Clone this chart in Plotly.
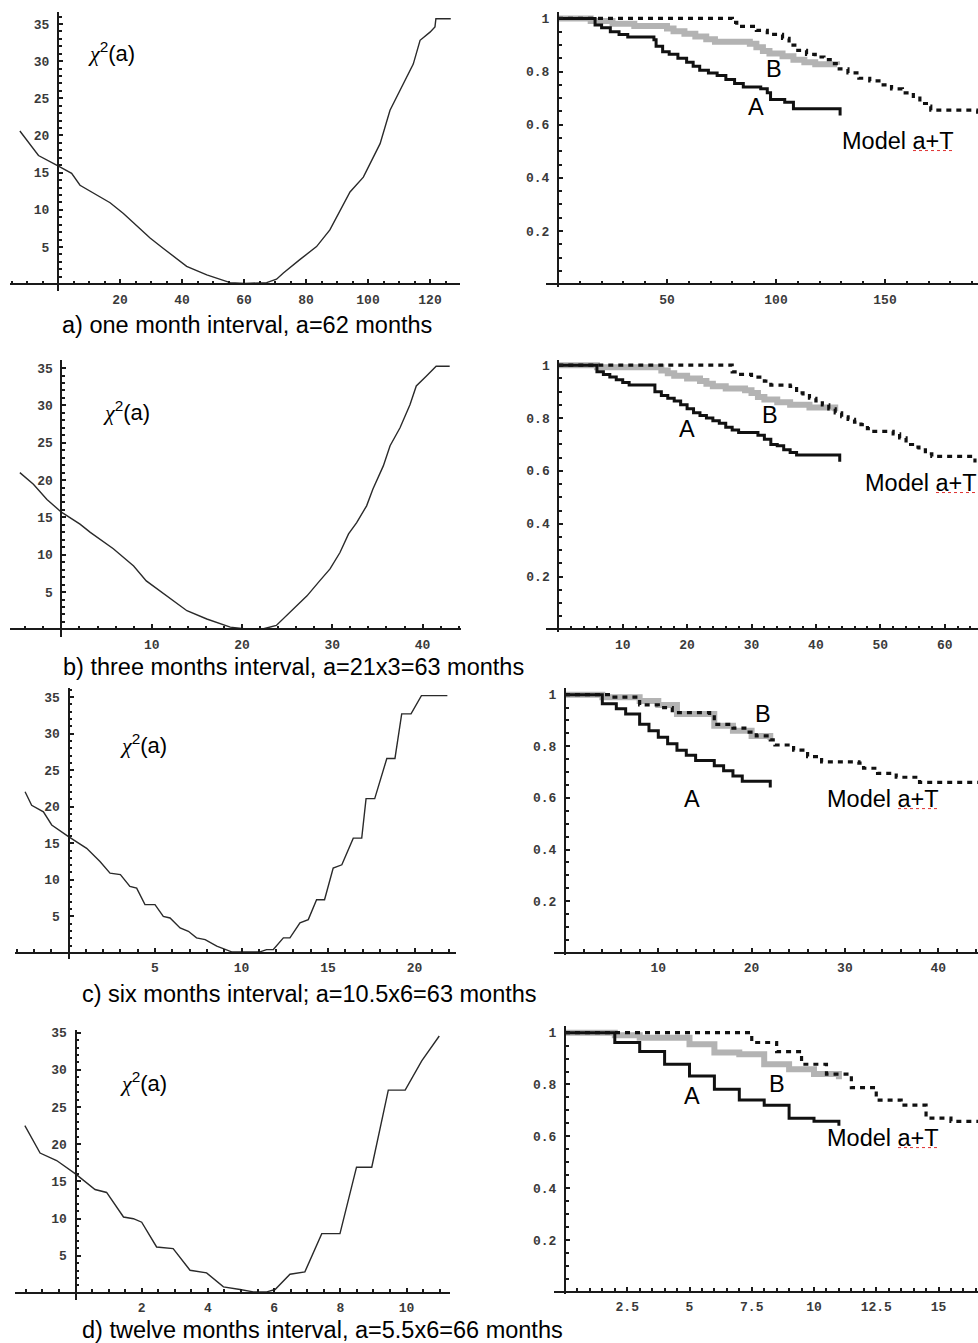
import numpy as np
import plotly.graph_objects as go

W, H = 978, 1343

# ---------------- DATA ----------------
# chi^2(a) curves (left column)
chi_a_x = [-12.3, -6.3, 0, 4.4, 7.1, 16.8, 21.1, 29.7, 34, 41.5, 48, 55.5, 60.3, 67.3, 70.5, 72.7, 78, 83.4,
           87.7, 91, 94.2, 98.5, 100.6, 103.9, 107.1, 110.3, 114.6, 116.8, 120, 121.6, 121.9, 126.7]
chi_a_y = [20.6, 17.3, 15.9, 14.9, 13.3, 10.95, 9.5, 6.2, 4.8, 2.4, 1.25, 0.2, 0.1, 0.2, 0.67, 1.5, 3.3, 5.05,
           7.3, 10, 12.4, 14.4, 16.2, 18.9, 23.4, 26.1, 29.6, 32.8, 33.9, 34.6, 35.7, 35.7]

chi_b_x = [-4.6, -3.1, -1.6, 0, 2.06, 3.2, 5.75, 8, 9.4, 11.65, 13.9, 16.1, 18.7, 20.2, 22.4, 23.8, 25.3, 27.2,
           28.6, 29.75, 30.85, 31.8, 32.7, 33.8, 34.5, 35.65, 36.4, 37.5, 38.6, 39.3, 40.4, 41.5, 43]
chi_b_y = [21.0, 19.45, 17.4, 15.7, 14.1, 13, 10.8, 8.5, 6.5, 4.5, 2.5, 1.4, 0.3, 0.09, 0.09, 0.53, 2.3, 4.5,
           6.5, 8.1, 10.3, 12.8, 14.3, 16.55, 18.8, 21.9, 24.6, 27.0, 30.1, 32.6, 33.9, 35.25, 35.25]

chi_c_x = [-2.51, -2.13, -1.45, -0.97, 0, 1.05, 1.82, 2.4, 3, 3.55, 3.94, 4.42, 5, 5.48, 5.87, 6.45, 6.93, 7.4,
           7.9, 8.57, 9.43, 10.1, 11.07, 11.45, 11.84, 12.42, 12.8, 13.38, 13.86, 14.34, 14.8, 15.3, 15.8, 16.46,
           16.95, 17.2, 17.7, 18.4, 18.87, 19.26, 19.8, 20.4, 21.9]
chi_c_y = [22.05, 20.2, 19.3, 17.5, 15.9, 14.3, 12.5, 10.9, 10.7, 9.1, 8.86, 6.6, 6.6, 5.0, 4.77, 3.4, 2.95, 2.05,
           1.82, 0.91, 0.14, 0.14, 0.14, 0.45, 0.45, 2.05, 2.05, 4.1, 4.55, 7.27, 7.27, 11.6, 12.05, 15.7,
           15.7, 21.1, 21.1, 26.6, 26.6, 32.7, 32.7, 35.2, 35.2]

chi_d_x = [-1.53, -1.07, -0.57, 0, 0.59, 0.94, 1.45, 1.75, 2.0, 2.45, 2.95, 3.46, 3.96, 4.47, 4.97, 5.37, 5.78,
           6.03, 6.48, 6.93, 7.44, 7.99, 8.49, 8.95, 9.45, 9.96, 10.46, 10.99]
chi_d_y = [22.5, 18.8, 17.8, 16.0, 13.9, 13.5, 10.2, 9.97, 9.5, 6.17, 5.95, 3.04, 2.68, 0.8, 0.45, 0.13, 0.13,
           0.45, 2.5, 2.82, 7.96, 7.96, 16.9, 16.9, 27.27, 27.27, 31.2, 34.55]

# survival curves (right column): A (black), B (grey), Model a+T (dotted)
sa_A_x = [0, 17, 20, 24, 28, 32, 44, 45, 48, 51, 55, 59, 62, 65, 69, 73, 77, 81, 85, 93, 96, 97.5, 104, 108, 129.4]
sa_A_y = [1, .975, .965, .95, .94, .93, .92, .895, .875, .865, .85, .835, .82, .805, .795, .785, .77, .755, .742,
          .735, .72, .695, .685, .66, .635]
sa_B_x = [0, 15, 25, 35, 50, 53, 58, 63, 68, 72, 88, 91, 94, 97, 103, 108, 113, 118, 128]
sa_B_y = [1, .99, .98, .972, .962, .952, .942, .932, .922, .912, .905, .892, .878, .868, .858, .845, .835, .828, .826]
sa_M_x = [0, 80, 82, 91, 96, 103, 106, 110, 114, 118, 122, 126, 129, 133, 138, 143, 148, 153, 158, 163, 166, 169,
          171, 192.5]
sa_M_y = [1, .985, .97, .955, .94, .925, .9, .88, .865, .855, .845, .83, .81, .795, .775, .765, .75, .735, .72, .7,
          .68, .67, .655, .63]

sb_A_x = [0, 6, 7, 8, 9, 10, 11, 15, 16, 17, 18, 19, 20, 21, 22, 23, 24, 25, 26, 27, 28, 31, 32, 33, 34, 35, 36,
          37, 43.7]
sb_A_y = [1, .975, .965, .955, .945, .935, .925, .9, .885, .875, .865, .85, .835, .82, .81, .8, .79, .78, .765, .755,
          .745, .735, .72, .7, .695, .68, .67, .66, .635]
sb_B_x = [0, 6, 16, 17, 18, 20, 22, 23, 24, 26, 29, 30, 31, 32, 34, 36, 39, 43]
sb_B_y = [1, .992, .98, .97, .96, .95, .94, .93, .92, .912, .905, .895, .88, .87, .86, .85, .84, .826]
sb_M_x = [0, 27, 28, 30, 32, 33, 36, 37, 38, 39, 40, 41, 42, 43, 44, 45, 46, 47, 48, 49, 52, 53, 54, 55, 56, 57,
          58, 64.7]
sb_M_y = [1, .975, .965, .955, .94, .925, .92, .895, .885, .875, .865, .85, .835, .82, .805, .795, .785, .775, .76,
          .75, .74, .725, .7, .69, .68, .665, .655, .632]

sc_A_x = [0, 4, 5.5, 6.5, 8, 9, 10, 11, 12, 13, 14, 16, 17, 18, 19, 22]
sc_A_y = [1, .965, .945, .925, .885, .86, .835, .81, .785, .765, .745, .725, .705, .685, .665, .64]
sc_B_x = [0, 4, 8, 10, 12, 16, 18, 20, 22]
sc_B_y = [1, .99, .975, .96, .925, .88, .86, .84, .825]
sc_M_x = [0, 5, 8, 10, 11.5, 15.5, 16, 18, 19.5, 20.5, 22, 22.5, 24.5, 26, 27.5, 31.5, 32, 33.5, 35.5, 38, 44.3]
sc_M_y = [1, .99, .96, .95, .93, .92, .885, .87, .855, .84, .825, .805, .785, .76, .74, .735, .715, .695, .68, .66,
          .66]

sd_A_x = [0, 2, 3, 4, 5, 6, 7, 8, 9, 10, 11]
sd_A_y = [1, .962, .927, .878, .833, .782, .74, .72, .67, .658, .641]
sd_B_x = [0, 2, 3, 5, 6, 7, 8, 9, 10, 11]
sd_B_y = [1, .99, .98, .955, .923, .917, .878, .859, .84, .82]
sd_M_x = [0, 7.5, 8.5, 9.5, 10.5, 11.5, 12.5, 13.5, 14.5, 15.5, 16.7]
sd_M_y = [1, .962, .927, .878, .84, .788, .74, .72, .67, .658, .658]

# tick labels
chi_ticks = [5, 10, 15, 20, 25, 30, 35]
surv_ticks = [0.2, 0.4, 0.6, 0.8, 1]
surv_ticktext = ["0.2", "0.4", "0.6", "0.8", "1"]
xt_a_left = [20, 40, 60, 80, 100, 120]
xt_a_right = [50, 100, 150]
xt_b_left = [10, 20, 30, 40]
xt_b_right = [10, 20, 30, 40, 50, 60]
xt_c_left = [5, 10, 15, 20]
xt_c_right = [10, 20, 30, 40]
xt_d_left = [2, 4, 6, 8, 10]
xt_d_right = [2.5, 5, 7.5, 10, 12.5, 15]
xt_d_right_text = ["2.5", "5", "7.5", "10", "12.5", "15"]

captions = ["a) one month interval, a=62 months",
            "b) three months interval, a=21x3=63 months",
            "c) six months interval; a=10.5x6=63 months",
            "d) twelve months interval, a=5.5x6=66 months"]

# ---------------- LAYOUT (pixel geometry) ----------------
# box: (x0, x1, y0, y1) px ; origin px ; scale px/unit ; major ticks ; minor step
panels = [
    dict(box=(10, 460, 8, 288), org=(58, 281), sc=(3.1, 7.457), xt=xt_a_left, xtt=None, xm=5,
         yt=chi_ticks, ytt=None, ym=1),
    dict(box=(546, 978, 8, 284), org=(558, 281), sc=(2.18, 266.5), xt=xt_a_right, xtt=None, xm=10,
         yt=surv_ticks, ytt=surv_ticktext, ym=0.05),
    dict(box=(10, 461, 356.7, 635), org=(61.4, 627.3), sc=(9.03, 7.49), xt=xt_b_left, xtt=None, xm=2,
         yt=chi_ticks, ytt=None, ym=1),
    dict(box=(546, 978, 356.7, 630), org=(558.3, 627.3), sc=(6.44, 265), xt=xt_b_right, xtt=None, xm=2,
         yt=surv_ticks, ytt=surv_ticktext, ym=0.05),
    dict(box=(15, 456, 686, 958), org=(68.5, 951.7), sc=(17.3, 7.33), xt=xt_c_left, xtt=None, xm=1,
         yt=chi_ticks, ytt=None, ym=1),
    dict(box=(554, 978, 686, 954), org=(565, 951.7), sc=(9.33, 259), xt=xt_c_right, xtt=None, xm=2,
         yt=surv_ticks, ytt=surv_ticktext, ym=0.05),
    dict(box=(15, 450, 1029, 1300), org=(75.5, 1292.7), sc=(33.1, 7.457), xt=xt_d_left, xtt=None, xm=0.5,
         yt=chi_ticks, ytt=None, ym=1),
    dict(box=(554, 978, 1025, 1294), org=(565, 1291.7), sc=(24.9, 260), xt=xt_d_right, xtt=xt_d_right_text,
         xm=0.5, yt=surv_ticks, ytt=surv_ticktext, ym=0.05),
]

AX = "#1a1a1a"
TICKFONT = dict(family="Liberation Mono", size=13, color="#3a3a3a", weight="bold")
LABFONT = dict(family="Liberation Sans", size=23.5, color="black")

fig = go.Figure()
layout = dict(width=W, height=H, margin=dict(l=0, r=0, t=0, b=0),
              paper_bgcolor="white", plot_bgcolor="white", showlegend=False)


def minor_vals(lo, hi, step, major):
    vals = np.arange(np.ceil(lo / step) * step, hi + 1e-9, step)
    out = []
    for v in vals:
        if abs(v) < 1e-9:
            continue
        if any(abs(v - m) < 1e-9 for m in major):
            continue
        out.append(round(float(v), 6))
    return out


for i, p in enumerate(panels):
    k = i + 1
    x0, x1, y0, y1 = p["box"]
    ox, oy = p["org"]
    sx, sy = p["sc"]
    xr = [(x0 - ox) / sx, (x1 - ox) / sx]
    yr = [(oy - y1) / sy, (oy - y0) / sy]
    xd = [x0 / W, x1 / W]
    yd = [1 - y1 / H, 1 - y0 / H]
    xa = dict(domain=xd, range=xr, anchor="free", position=1 - oy / H,
              showline=True, linecolor=AX, linewidth=2, showgrid=False, zeroline=False,
              ticks="inside", ticklen=4, tickwidth=1.5, tickcolor=AX, ticklabelstandoff=3,
              tickmode="array", tickvals=p["xt"], tickfont=TICKFONT,
              minor=dict(tickmode="array", tickvals=minor_vals(xr[0], xr[1], p["xm"], p["xt"]),
                         ticks="inside", ticklen=2.5, tickwidth=1.5, tickcolor=AX, showgrid=False))
    if p["xtt"] is not None:
        xa["ticktext"] = p["xtt"]
    ya = dict(domain=yd, range=yr, anchor="free", position=ox / W,
              showline=True, linecolor=AX, linewidth=2, showgrid=False, zeroline=False,
              ticks="inside", ticklen=4, tickwidth=1.5, tickcolor=AX, ticklabelstandoff=5,
              tickmode="array", tickvals=p["yt"], tickfont=TICKFONT,
              minor=dict(tickmode="array", tickvals=minor_vals(yr[0], yr[1], p["ym"], p["yt"]),
                         ticks="inside", ticklen=2.5, tickwidth=1.5, tickcolor=AX, showgrid=False))
    if p["ytt"] is not None:
        ya["ticktext"] = p["ytt"]
    layout[f"xaxis{k}"] = xa
    layout[f"yaxis{k}"] = ya

chi_sets = [(chi_a_x, chi_a_y), (chi_b_x, chi_b_y), (chi_c_x, chi_c_y), (chi_d_x, chi_d_y)]
surv_sets = [
    (sa_A_x, sa_A_y, sa_B_x, sa_B_y, sa_M_x, sa_M_y),
    (sb_A_x, sb_A_y, sb_B_x, sb_B_y, sb_M_x, sb_M_y),
    (sc_A_x, sc_A_y, sc_B_x, sc_B_y, sc_M_x, sc_M_y),
    (sd_A_x, sd_A_y, sd_B_x, sd_B_y, sd_M_x, sd_M_y),
]

for r in range(4):
    kl = 2 * r + 1
    kr = 2 * r + 2
    cx, cy = chi_sets[r]
    fig.add_trace(go.Scatter(x=cx, y=cy, mode="lines", xaxis=f"x{kl}", yaxis=f"y{kl}",
                             line=dict(color="#2a2a2a", width=1.4), hoverinfo="skip"))
    ax_, ay_, bx_, by_, mx_, my_ = surv_sets[r]
    fig.add_trace(go.Scatter(x=bx_, y=by_, mode="lines", xaxis=f"x{kr}", yaxis=f"y{kr}",
                             line=dict(color="#b3b3b3", width=6, shape="hv"), hoverinfo="skip"))
    fig.add_trace(go.Scatter(x=ax_, y=ay_, mode="lines", xaxis=f"x{kr}", yaxis=f"y{kr}",
                             line=dict(color="#111111", width=3, shape="hv"), hoverinfo="skip"))
    fig.add_trace(go.Scatter(x=mx_, y=my_, mode="lines", xaxis=f"x{kr}", yaxis=f"y{kr}",
                             line=dict(color="#111111", width=3.2, shape="hv", dash="5px,5px"),
                             hoverinfo="skip"))


def P(px, py):
    return px / W, 1 - py / H


ann = []
# captions
cap_pos = [(60, 322), (61, 665), (80, 993), (80, 1330)]
for txt, (px, py) in zip(captions, cap_pos):
    x, y = P(px, py)
    ann.append(dict(x=x, y=y, xref="paper", yref="paper", text=txt, showarrow=False,
                    xanchor="left", yanchor="middle", font=LABFONT))
# chi^2(a) labels
chi_pos = [(86, 48), (101, 408), (118, 742), (118, 1081)]
chi_text = ('<span style="font-family:Liberation Serif;font-style:italic">χ</span><sup>2</sup>(a)')
for px, py in chi_pos:
    x, y = P(px, py)
    ann.append(dict(x=x, y=y, xref="paper", yref="paper", text=chi_text, showarrow=False,
                    xanchor="left", yanchor="middle",
                    font=dict(family="Liberation Sans", size=22, color="black")))
# A / B / Model labels
lab_pos = [
    dict(B=(774, 65), A=(756, 103), M=(840, 137)),
    dict(B=(770, 412), A=(687, 426), M=(863, 480)),
    dict(B=(763, 712), A=(692, 797), M=(825, 797)),
    dict(B=(777, 1083), A=(692, 1095), M=(825, 1137)),
]
for d in lab_pos:
    for key, txt in (("A", "A"), ("B", "B")):
        x, y = P(*d[key])
        ann.append(dict(x=x, y=y, xref="paper", yref="paper", text=txt, showarrow=False,
                        xanchor="center", yanchor="middle", font=LABFONT))
    x, y = P(*d["M"])
    ann.append(dict(x=x, y=y, xref="paper", yref="paper", text="Model a+T", showarrow=False,
                    xanchor="left", yanchor="middle", font=LABFONT))

# red spell-check squiggle under "a+T"
shapes = []
for d in lab_pos:
    mx0, my0 = d["M"]
    xa0, ya0 = P(mx0 + 73, my0 + 10)
    xa1, _ = P(mx0 + 113, my0 + 10)
    shapes.append(dict(type="line", xref="paper", yref="paper", x0=xa0, x1=xa1, y0=ya0, y1=ya0,
                       line=dict(color="#e03030", width=1, dash="dot")))

layout["annotations"] = ann
layout["shapes"] = shapes
fig.update_layout(**layout)
fig.write_html("out.html", config={"displayModeBar": False},
               post_script="document.body.style.margin='0px';document.body.style.overflow='hidden';")
